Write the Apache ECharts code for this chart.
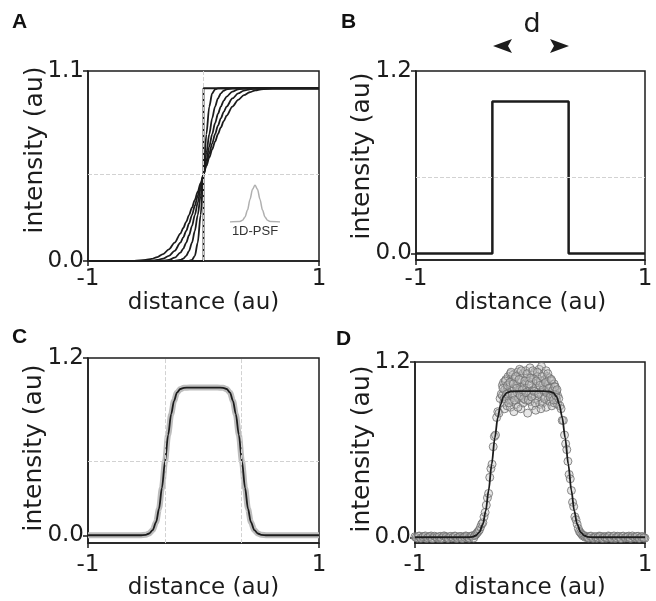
<!DOCTYPE html>
<html>
<head>
<meta charset="utf-8">
<script src="https://cdn.jsdelivr.net/npm/echarts@6/dist/echarts.min.js"></script>
<style>
  html, body { margin: 0; padding: 0; background: #fff; }
  #chart { width: 656px; height: 601px; }
</style>
</head>
<body>
<div id="chart"></div>
<script>
// panel A: step edge blurred by PSFs of increasing width
const aX = [-1, -0.7, -0.6, -0.5, -0.45, -0.4, -0.35, -0.3, -0.25, -0.2, -0.175, -0.15, -0.125, -0.1, -0.075, -0.05, -0.025, 0,
  0.025, 0.05, 0.075, 0.1, 0.125, 0.15, 0.175, 0.2, 0.25, 0.3, 0.35, 0.4, 0.45, 0.5, 0.6, 0.7, 1]
const aY1 = [0, 0, 0, 0, 0, 0, 0, 0, 0, 0, 0, 0, 0.001, 0.006, 0.03, 0.106, 0.266, 0.5,
  0.734, 0.894, 0.97, 0.994, 0.999, 1, 1, 1, 1, 1, 1, 1, 1, 1, 1, 1, 1]
const aY2 = [0, 0, 0, 0, 0, 0, 0, 0, 0.001, 0.006, 0.014, 0.03, 0.059, 0.106, 0.174, 0.266, 0.377, 0.5,
  0.623, 0.734, 0.826, 0.894, 0.941, 0.97, 0.986, 0.994, 0.999, 1, 1, 1, 1, 1, 1, 1, 1]
const aY3 = [0, 0, 0, 0, 0, 0, 0.002, 0.006, 0.019, 0.048, 0.072, 0.106, 0.149, 0.202, 0.266, 0.338, 0.418, 0.5,
  0.582, 0.662, 0.734, 0.798, 0.851, 0.894, 0.928, 0.952, 0.981, 0.994, 0.998, 1, 1, 1, 1, 1, 1]
const aY4 = [0, 0, 0, 0.001, 0.002, 0.006, 0.014, 0.03, 0.059, 0.106, 0.137, 0.174, 0.217, 0.266, 0.32, 0.377, 0.438, 0.5,
  0.562, 0.623, 0.68, 0.734, 0.783, 0.826, 0.863, 0.894, 0.941, 0.97, 0.986, 0.994, 0.998, 0.999, 1, 1, 1]
const aY5 = [0, 0, 0.001, 0.006, 0.012, 0.023, 0.04, 0.067, 0.106, 0.159, 0.191, 0.227, 0.266, 0.309, 0.354, 0.401, 0.45, 0.5,
  0.55, 0.599, 0.646, 0.691, 0.734, 0.773, 0.809, 0.841, 0.894, 0.933, 0.96, 0.977, 0.988, 0.994, 0.999, 1, 1]
const stepX = [-1, 0, 0, 1]
const stepY = [0, 0, 1, 1]

// inset PSF
const psfX = [-5, -3, -2.5, -2, -1.5, -1, -0.5, 0, 0.5, 1, 1.5, 2, 2.5, 3, 5]
const psfY = [0, 0.011, 0.044, 0.135, 0.325, 0.607, 0.882, 1, 0.882, 0.607, 0.325, 0.135, 0.044, 0.011, 0]

// panel B: object of width d
const boxX = [-1, -0.333, -0.333, 0.333, 0.333, 1]
const boxY = [0, 0, 1, 1, 0, 0]

// panels C and D: blurred object / fit
const fitX = [-1, -0.62, -0.55, -0.5, -0.47, -0.44, -0.41, -0.385, -0.36, -0.333, -0.306, -0.28, -0.255, -0.23, -0.2, -0.17, -0.12, 0,
  0.12, 0.17, 0.2, 0.23, 0.255, 0.28, 0.306, 0.333, 0.36, 0.385, 0.41, 0.44, 0.47, 0.5, 0.55, 0.62, 1]
const fitY = [0, 0, 0, 0.003, 0.012, 0.035, 0.09, 0.18, 0.32, 0.5, 0.68, 0.82, 0.91, 0.965, 0.99, 0.998, 1, 1,
  1, 0.998, 0.99, 0.965, 0.91, 0.82, 0.68, 0.5, 0.32, 0.18, 0.09, 0.035, 0.012, 0.003, 0, 0, 0]

// panel D: noisy measurement
const dLeftTail = [[-1.00, 0.004], [-0.98, -0.006], [-0.96, 0.008], [-0.94, -0.003], [-0.92, 0.006], [-0.90, -0.008], [-0.88, 0.002],
  [-0.86, 0.009], [-0.84, -0.005], [-0.82, 0.003], [-0.80, -0.007], [-0.78, 0.006], [-0.76, -0.002], [-0.74, 0.008], [-0.72, -0.006],
  [-0.70, 0.004], [-0.68, -0.004], [-0.66, 0.007], [-0.64, -0.008], [-0.62, 0.002], [-0.60, 0.006], [-0.58, -0.005], [-0.56, 0.009],
  [-0.54, -0.003], [-0.52, 0.005]]
const dLeftTail2 = [[-0.99, -0.002], [-0.97, 0.007], [-0.95, -0.007], [-0.93, 0.003], [-0.91, 0.009], [-0.89, -0.004], [-0.87, 0.005],
  [-0.85, -0.009], [-0.83, 0.007], [-0.81, -0.001], [-0.79, 0.004], [-0.77, -0.008], [-0.75, 0.009], [-0.73, 0.001], [-0.71, -0.007],
  [-0.69, 0.006], [-0.67, -0.002], [-0.65, 0.008], [-0.63, -0.005], [-0.61, 0.004], [-0.59, -0.008], [-0.57, 0.002], [-0.55, 0.007],
  [-0.53, -0.006], [-0.51, 0.008]]
const dLeftEdge = [[-0.50, 0.01], [-0.49, -0.005], [-0.48, 0.012], [-0.47, 0.02], [-0.46, 0.03], [-0.45, 0.04], [-0.44, 0.05],
  [-0.43, 0.07], [-0.42, 0.09], [-0.41, 0.1], [-0.40, 0.14], [-0.39, 0.17], [-0.38, 0.22], [-0.37, 0.27], [-0.36, 0.3],
  [-0.35, 0.41], [-0.34, 0.47], [-0.33, 0.5], [-0.32, 0.62], [-0.31, 0.69], [-0.30, 0.7], [-0.29, 0.82], [-0.28, 0.86],
  [-0.27, 0.85], [-0.26, 0.95], [-0.25, 0.98]]
const dPlateau = [[-0.24, 0.97], [-0.24, 1.04], [-0.23, 0.92], [-0.23, 1.06], [-0.22, 1.01], [-0.22, 0.88], [-0.21, 1.08], [-0.21, 0.96],
  [-0.20, 0.90], [-0.20, 1.03], [-0.19, 1.10], [-0.19, 0.99], [-0.18, 0.94], [-0.18, 1.05], [-0.17, 1.12], [-0.17, 0.89],
  [-0.16, 1.00], [-0.16, 1.07], [-0.15, 0.93], [-0.15, 1.11], [-0.14, 1.02], [-0.14, 0.86], [-0.13, 1.09], [-0.13, 0.97],
  [-0.12, 1.04], [-0.12, 0.91], [-0.11, 1.13], [-0.11, 0.99], [-0.10, 0.95], [-0.10, 1.06], [-0.09, 1.15], [-0.09, 1.01],
  [-0.08, 0.88], [-0.08, 1.08], [-0.07, 1.03], [-0.07, 0.96], [-0.06, 1.12], [-0.06, 0.92], [-0.05, 1.05], [-0.05, 0.99],
  [-0.04, 1.14], [-0.04, 0.94], [-0.03, 1.02], [-0.03, 1.09], [-0.02, 0.97], [-0.02, 0.85], [-0.01, 1.07], [-0.01, 1.00],
  [0.00, 1.16], [0.00, 0.93], [0.01, 1.04], [0.01, 0.98], [0.02, 1.11], [0.02, 0.90], [0.03, 1.01], [0.03, 1.08],
  [0.04, 0.95], [0.04, 1.13], [0.05, 1.03], [0.05, 0.87], [0.06, 1.10], [0.06, 0.99], [0.07, 0.94], [0.07, 1.06],
  [0.08, 1.15], [0.08, 1.01], [0.09, 0.91], [0.09, 1.07], [0.10, 1.17], [0.10, 0.97], [0.11, 1.04], [0.11, 0.92],
  [0.12, 1.12], [0.12, 1.00], [0.13, 0.96], [0.13, 1.08], [0.14, 1.14], [0.14, 0.89], [0.15, 1.02], [0.15, 1.10],
  [0.16, 0.95], [0.16, 1.05], [0.17, 1.09], [0.17, 0.93], [0.18, 1.03], [0.18, 0.98], [0.19, 1.07], [0.19, 0.90],
  [0.20, 1.01], [0.20, 0.96], [0.21, 1.05], [0.21, 0.92], [0.22, 0.99], [0.22, 1.03], [0.23, 0.94], [0.23, 1.00],
  [0.24, 0.97], [0.24, 0.91]]
const dPlateau2 = [[-0.235, 1.02], [-0.225, 0.95], [-0.215, 1.07], [-0.205, 0.98], [-0.195, 1.04], [-0.185, 0.92], [-0.175, 1.06],
  [-0.165, 1.13], [-0.155, 0.98], [-0.145, 1.05], [-0.135, 0.94], [-0.125, 1.10], [-0.115, 1.02], [-0.105, 0.89], [-0.095, 1.08],
  [-0.085, 0.97], [-0.075, 1.14], [-0.065, 1.01], [-0.055, 0.95], [-0.045, 1.07], [-0.035, 0.99], [-0.025, 1.12], [-0.015, 0.94],
  [-0.005, 1.05], [0.005, 1.09], [0.015, 0.96], [0.025, 1.14], [0.035, 1.00], [0.045, 0.92], [0.055, 1.07], [0.065, 1.13],
  [0.075, 0.98], [0.085, 1.04], [0.095, 0.88], [0.105, 1.10], [0.115, 1.01], [0.125, 0.95], [0.135, 1.06], [0.145, 0.99],
  [0.155, 1.12], [0.165, 1.02], [0.175, 0.96], [0.185, 1.08], [0.195, 1.00], [0.205, 0.94], [0.215, 1.03], [0.225, 0.97],
  [0.235, 1.01]]
const dRightEdge = [[0.25, 0.95], [0.26, 0.9], [0.27, 0.88], [0.28, 0.8], [0.29, 0.8], [0.30, 0.7], [0.31, 0.64], [0.32, 0.6],
  [0.33, 0.52], [0.34, 0.43], [0.35, 0.4], [0.36, 0.32], [0.37, 0.24], [0.38, 0.21], [0.39, 0.14], [0.40, 0.12],
  [0.41, 0.09], [0.42, 0.06], [0.43, 0.04], [0.44, 0.03], [0.45, 0.02], [0.46, 0.01], [0.47, 0.012], [0.48, 0.0],
  [0.49, 0.005], [0.50, -0.003]]
const dRightTail = [[0.52, 0.006], [0.54, -0.004], [0.56, 0.003], [0.58, -0.007], [0.60, 0.008], [0.62, -0.002], [0.64, 0.005],
  [0.66, -0.006], [0.68, 0.009], [0.70, -0.003], [0.72, 0.004], [0.74, -0.008], [0.76, 0.007], [0.78, -0.001], [0.80, 0.006],
  [0.82, -0.005], [0.84, 0.002], [0.86, 0.008], [0.88, -0.006], [0.90, 0.003], [0.92, -0.004], [0.94, 0.007], [0.96, -0.002],
  [0.98, 0.005], [1.00, -0.006]]
const dRightTail2 = [[0.51, -0.005], [0.53, 0.008], [0.55, -0.007], [0.57, 0.004], [0.59, -0.002], [0.61, 0.007], [0.63, -0.008],
  [0.65, 0.002], [0.67, -0.004], [0.69, 0.006], [0.71, -0.007], [0.73, 0.009], [0.75, -0.003], [0.77, 0.005], [0.79, -0.008],
  [0.81, 0.008], [0.83, -0.002], [0.85, 0.004], [0.87, -0.006], [0.89, 0.009], [0.91, -0.001], [0.93, 0.006], [0.95, -0.007],
  [0.97, 0.003], [0.99, -0.004]]

const xTicks = [-1, 1]
const yTopA = 1.1
const yTopB = 1.2

const zip = (xs, ys) => xs.map((x, i) => [x, ys[i]])

const FONT = 'DejaVu Sans'
const INK = '#1c1c1c'
const grids = [
  { left: 88, top: 71, width: 231, height: 190 },
  { left: 416, top: 71, width: 229, height: 189 },
  { left: 88, top: 358, width: 231, height: 190 },
  { left: 415, top: 362, width: 230, height: 187 },
]
const yRanges = [[0, yTopA], [-0.043, yTopB], [-0.053, yTopB], [-0.04, yTopB]]
const labelMargin = [7, 8, 10, 10]

const xAxes = grids.map((g, i) => ({
  gridIndex: i, type: 'value', min: -1, max: 1,
  axisLine: { onZero: false, lineStyle: { color: INK, width: 1.5 } },
  axisTick: { length: 5, lineStyle: { color: INK, width: 1.5 }, customValues: xTicks },
  axisLabel: { customValues: xTicks, formatter: v => String(v), color: INK, fontFamily: FONT, fontSize: 23, margin: labelMargin[i] },
  splitLine: { show: false },
  name: 'distance (au)', nameLocation: 'middle', nameGap: 22,
  nameTextStyle: { color: INK, fontFamily: FONT, fontSize: 23 },
}))
const yAxes = grids.map((g, i) => ({
  gridIndex: i, type: 'value', min: yRanges[i][0], max: yRanges[i][1],
  axisLine: { onZero: false, lineStyle: { color: INK, width: 1.5 } },
  axisTick: { length: 5, lineStyle: { color: INK, width: 1.5 }, customValues: [0, yRanges[i][1]] },
  axisLabel: { customValues: [0, yRanges[i][1]], formatter: v => v.toFixed(1), color: INK, fontFamily: FONT, fontSize: 23, margin: 4 },
  splitLine: { show: false },
}))
// inset axes
xAxes.push({ gridIndex: 4, type: 'value', min: -5, max: 5, show: false })
yAxes.push({ gridIndex: 4, type: 'value', min: 0, max: 1, show: false })

const dashed = (lines) => ({
  silent: true, symbol: ['none', 'none'], label: { show: false },
  lineStyle: { type: 'dashed', color: '#d2d2d2', width: 1 },
  data: lines,
})

const curve = (i, data, extra) => Object.assign({
  type: 'line', xAxisIndex: i, yAxisIndex: i, data, showSymbol: false,
  smooth: 0.3, smoothMonotone: 'x',
  lineStyle: { color: INK, width: 1.8 },
}, extra || {})

const series = [
  curve(0, zip(aX, aY5), { markLine: dashed([{ xAxis: 0 }, { yAxis: 0.5 }]) }),
  curve(0, zip(aX, aY4)),
  curve(0, zip(aX, aY3)),
  curve(0, zip(aX, aY2)),
  curve(0, zip(aX, aY1)),
  curve(0, zip(stepX, stepY), { smooth: false }),
  curve(4, zip(psfX, psfY), { lineStyle: { color: '#b0b0b0', width: 1.5 } }),

  curve(1, zip(boxX, boxY), { smooth: false, lineStyle: { color: INK, width: 2.5 },
    markLine: dashed([{ yAxis: 0.5 }]) }),

  curve(2, zip(fitX, fitY), { lineStyle: { color: '#bdbdbd', width: 6 },
    markLine: dashed([{ xAxis: -0.333 }, { xAxis: 0.333 }, { yAxis: 0.5 }]) }),
  curve(2, zip(fitX, fitY), { lineStyle: { color: INK, width: 1.8 } }),
]

const pts = [dLeftTail, dLeftTail2, dLeftEdge, dPlateau, dPlateau2, dRightEdge, dRightTail, dRightTail2]
pts.forEach(p => series.push({
  type: 'scatter', xAxisIndex: 3, yAxisIndex: 3, data: p, symbolSize: 8,
  itemStyle: { color: 'rgba(195,195,195,0.5)', borderColor: '#6e6e6e', borderWidth: 1 },
}))
series.push(curve(3, zip(fitX, fitY), { lineStyle: { color: INK, width: 1.8 }, z: 5 }))

const yTitle = (x, y) => ({
  type: 'text', x, y, rotation: Math.PI / 2,
  style: { text: 'intensity (au)', font: '25px "DejaVu Sans"', fill: INK, align: 'center', verticalAlign: 'middle' },
})
const letter = (t, x, y) => ({
  type: 'text', x, y,
  style: { text: t, font: 'bold 21px "Liberation Sans", Arial', fill: '#111', align: 'left', verticalAlign: 'top' },
})

const chart = echarts.init(document.getElementById('chart'))
chart.setOption({
  animation: false,
  backgroundColor: '#fff',
  grid: grids.map(g => Object.assign({ show: true, borderColor: INK, borderWidth: 1.5, containLabel: false }, g))
    .concat([{ left: 230, top: 185, width: 50, height: 37 }]),
  xAxis: xAxes,
  yAxis: yAxes,
  series,
  graphic: [
    yTitle(35, 150), yTitle(362, 156), yTitle(34, 448), yTitle(362, 449),
    letter('A', 12, 12), letter('B', 341, 12), letter('C', 12, 327), letter('D', 336, 329),
    { type: 'text', x: 255, y: 231, style: { text: '1D-PSF', font: '13px "Liberation Sans", Arial', fill: '#333', align: 'center', verticalAlign: 'middle' } },
    { type: 'text', x: 532, y: 25, style: { text: 'd', font: '27px "DejaVu Sans"', fill: INK, align: 'center', verticalAlign: 'middle' } },
    { type: 'polygon', shape: { points: [[493, 46], [512, 39], [508, 46], [512, 53]] }, style: { fill: INK } },
    { type: 'polygon', shape: { points: [[569, 46], [550, 39], [554, 46], [550, 53]] }, style: { fill: INK } },
  ],
})
</script>
</body>
</html>
